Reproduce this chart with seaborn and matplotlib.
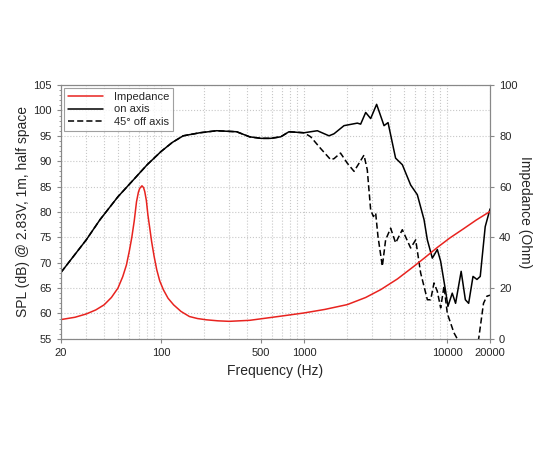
import matplotlib
matplotlib.use("Agg")
import matplotlib.pyplot as plt
import matplotlib.ticker as mticker
import numpy as np
import pandas as pd
import seaborn as sns

# on axis SPL (dB)
on_freq = [20, 30, 37.5, 50, 64, 80, 100, 120, 143, 187, 245, 338, 417, 500, 585, 687, 785, 1000,
           1240, 1496, 1621, 1904, 2360, 2490, 2700, 2925, 3220, 3628, 3870, 4370, 4873, 5571,
           6200, 6907, 7286, 7896, 8556, 9025, 9780, 10150, 10880, 11480, 12560, 13440, 14170,
           15200, 16200, 17080, 18500, 20000]
on_spl = [68.1, 74.5, 78.5, 83.0, 86.3, 89.3, 91.9, 93.7, 95.0, 95.6, 96.0, 95.8, 94.8, 94.5, 94.5,
          94.8, 95.8, 95.6, 96.0, 95.0, 95.4, 97.0, 97.5, 97.3, 99.6, 98.4, 101.2, 97.0, 97.6, 90.6,
          89.3, 85.3, 83.4, 78.5, 74.5, 70.9, 72.6, 70.3, 64.4, 61.4, 64.0, 62.0, 68.3, 62.7, 62.0,
          67.3, 66.7, 67.3, 77.1, 80.6]

# 45 deg off axis SPL (dB)
off_freq = [20, 30, 37.5, 50, 64, 80, 100, 120, 143, 187, 245, 338, 417, 500, 585, 687, 785, 1000,
            1114, 1307, 1536, 1621, 1800, 2009, 2238, 2427, 2627, 2770, 2925, 3055, 3170, 3290,
            3530, 3722, 4035, 4373, 4870, 5570, 6040, 6540, 7290, 7690, 8110, 8550, 9030, 9530,
            10050, 11180, 11800, 13000, 15000, 16650, 18000, 19000, 20000]
off_spl = [68.1, 74.5, 78.5, 83.0, 86.3, 89.3, 91.9, 93.7, 95.0, 95.6, 96.0, 95.8, 94.8, 94.5, 94.5,
           94.8, 95.8, 95.6, 94.8, 92.5, 90.3, 90.5, 91.6, 89.6, 88.0, 89.6, 91.2, 88.3, 80.4, 79.1,
           79.8, 75.2, 69.3, 74.5, 76.8, 73.9, 76.5, 72.9, 74.5, 68.0, 62.7, 62.7, 66.0, 64.4, 61.1,
           65.4, 60.0, 56.2, 55.0, 52.0, 52.0, 55.0, 62.0, 63.4, 63.6]

# impedance (Ohm)
imp_freq = [20, 25, 30, 35, 40, 45, 50, 54, 57.3, 60, 62.5, 65, 67.4, 69.5, 71, 73.6, 75.5, 77,
            79, 81, 83.5, 86, 89.5, 93.4, 98, 104, 112, 122.5, 138, 158, 180, 208, 250, 300, 417,
            680, 1000, 1400, 2009, 2700, 3440, 4500, 5875, 7000, 8550, 10500, 13150, 16000, 20000]
imp_ohm = [7.6, 8.5, 9.8, 11.4, 13.4, 16.3, 20.0, 24.5, 29.1, 34.5, 40.0, 46.5, 54.0, 57.8, 59.3,
           60.3, 59.6, 58.0, 54.5, 48.8, 43.5, 38.3, 32.5, 27.2, 22.8, 19.3, 16.0, 13.4, 10.8, 8.8,
           8.0, 7.5, 7.1, 6.9, 7.3, 8.9, 10.2, 11.6, 13.5, 16.3, 19.4, 23.6, 28.6, 32.0, 36.0, 39.8,
           43.5, 46.8, 50.2]

x_ticks = [20, 100, 500, 1000, 10000, 20000]

sns.set_style("white")
plt.rcParams['font.family'] = ['Liberation Sans', 'DejaVu Sans']

fig = plt.figure(figsize=(5.5, 4.5), dpi=100)
ax = fig.add_axes([0.111, 0.247, 0.78, 0.564])
ax2 = ax.twinx()

on_df = pd.DataFrame({"f": on_freq, "v": on_spl})
off_df = pd.DataFrame({"f": off_freq, "v": off_spl})
imp_df = pd.DataFrame({"f": imp_freq, "v": imp_ohm})

sns.lineplot(data=on_df, x="f", y="v", ax=ax, color="black", lw=1.1, label="on axis")
sns.lineplot(data=off_df, x="f", y="v", ax=ax, color="black", lw=1.1, ls=(0, (4, 2)),
             label="45° off axis")
sns.lineplot(data=imp_df, x="f", y="v", ax=ax2, color="#e8231f", lw=1.1, label="Impedance")

ax.set_xscale("log")
ax.set_xlim(20, 20000)
ax.set_ylim(55, 105)
ax2.set_ylim(0, 100)

ax.set_xticks(x_ticks)
ax.xaxis.set_major_formatter(mticker.FuncFormatter(lambda v, p: f"{int(v)}"))
ax.xaxis.set_minor_locator(mticker.LogLocator(base=10, subs=np.arange(2, 10)))
ax.xaxis.set_minor_formatter(mticker.NullFormatter())
ax.set_yticks(np.arange(55, 106, 5))
ax.yaxis.set_minor_locator(mticker.MultipleLocator(1))
ax2.set_yticks(np.arange(0, 101, 20))
ax2.yaxis.set_minor_locator(mticker.MultipleLocator(10))

ax.grid(True, which="both", axis="x", color="#c8c8c8", ls=":", lw=0.8)
ax.grid(True, which="major", axis="y", color="#c8c8c8", ls=":", lw=0.8)
ax.set_axisbelow(True)

for a in (ax, ax2):
    for s in a.spines.values():
        s.set_color("#888888")
        s.set_linewidth(0.8)
ax.tick_params(axis="both", which="major", labelsize=8, length=3, color="#888888", direction="out",
               left=True, bottom=True)
ax.tick_params(axis="y", which="minor", length=1.5, color="#888888", left=True)
ax.tick_params(axis="x", which="minor", length=0)
ax2.tick_params(axis="y", which="major", labelsize=8, length=3, color="#888888", right=True)
ax2.tick_params(axis="y", which="minor", length=0)

ax.set_xlabel("Frequency (Hz)", fontsize=10)
ax.set_ylabel("SPL (dB) @ 2.83V, 1m, half space", fontsize=10)
ax2.set_ylabel("Impedance (Ohm)", fontsize=10, rotation=270, va="center")
ax.xaxis.set_label_coords(0.5, -0.10)
ax.yaxis.set_label_coords(-0.072, 0.5)
ax2.yaxis.set_label_coords(1.082, 0.5)

h1, l1 = ax.get_legend_handles_labels()
h2, l2 = ax2.get_legend_handles_labels()
if ax2.get_legend():
    ax2.get_legend().remove()
if ax.get_legend():
    ax.get_legend().remove()
leg = ax2.legend(h2 + h1, l2 + l1, loc="upper left", fontsize=8, frameon=True, fancybox=False,
                 edgecolor="#888888", borderaxespad=0.3, handlelength=3.2, labelspacing=0.25,
                 borderpad=0.3, handletextpad=1.0)
leg.get_frame().set_linewidth(0.8)

fig.savefig("out.png", dpi=100)
